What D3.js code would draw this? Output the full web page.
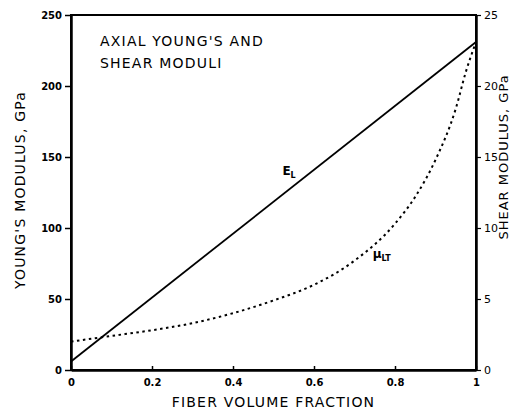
<!DOCTYPE html>
<html>
<head>
<meta charset="utf-8">
<script src="https://cdn.jsdelivr.net/npm/d3@7"></script>
<style>
  body { margin: 0; background: #fff; }
  svg { display: block; }
  text { font-family: "DejaVu Sans", sans-serif; fill: #000; }
  .tick text { font-weight: bold; font-size: 10px; }
</style>
</head>
<body>
<div id="chart"></div>
<script>
// fiber volume fraction values (x)
const fraction = [0, 1];
// axial Young's modulus E_L, GPa (left axis)
const youngs = [6, 231];

// shear modulus mu_LT, GPa (right axis)
const shearFraction = [0, 0.1, 0.2, 0.3, 0.4, 0.5, 0.6, 0.7, 0.8, 0.85, 0.9, 0.95, 0.975, 1.0];
const shear = [2.0, 2.4, 2.8, 3.3, 4.0, 4.9, 6.0, 7.7, 10.3, 12.2, 14.8, 18.4, 21.0, 23.1];

const xTicks = [0, 0.2, 0.4, 0.6, 0.8, 1];
const xTickLabels = ["0", "0.2", "0.4", "0.6", "0.8", "1"];
const leftTicks = [0, 50, 100, 150, 200, 250];
const rightTicks = [0, 5, 10, 15, 20, 25];

const width = 522, height = 411;
const margin = { top: 15, right: 46, bottom: 41, left: 71 };

const svg = d3.select("#chart").append("svg")
  .attr("width", width)
  .attr("height", height);

const x = d3.scaleLinear().domain([0, 1]).range([margin.left, width - margin.right]);
const yL = d3.scaleLinear().domain([0, 250]).range([height - margin.bottom, margin.top]);
const yR = d3.scaleLinear().domain([0, 25]).range([height - margin.bottom, margin.top]);

// frame
svg.append("rect")
  .attr("x", x(0)).attr("y", yL(250))
  .attr("width", x(1) - x(0)).attr("height", yL(0) - yL(250))
  .attr("fill", "none").attr("stroke", "#000").attr("stroke-width", 2);

// bottom axis
const xAxis = svg.append("g")
  .attr("transform", `translate(0,${yL(0)})`)
  .call(d3.axisBottom(x).tickValues(xTicks).tickFormat((d, i) => xTickLabels[i]).tickSizeInner(-4).tickSizeOuter(0).tickPadding(9));
xAxis.select(".domain").attr("stroke-width", 2.5);
xAxis.selectAll(".tick line").attr("stroke-width", 1.5);

// left axis
const lAxis = svg.append("g")
  .attr("transform", `translate(${x(0)},0)`)
  .call(d3.axisLeft(yL).tickValues(leftTicks).tickSizeInner(6).tickSizeOuter(0).tickPadding(3));
lAxis.select(".domain").attr("stroke-width", 2.5);
lAxis.selectAll(".tick line").attr("stroke-width", 1.5);

// right axis
const rAxis = svg.append("g")
  .attr("transform", `translate(${x(1)},0)`)
  .call(d3.axisRight(yR).tickValues(rightTicks).tickSizeInner(5).tickSizeOuter(0).tickPadding(3));
rAxis.select(".domain").attr("stroke-width", 2.5);
rAxis.selectAll(".tick line").attr("stroke-width", 1.2);
rAxis.selectAll(".tick text").style("font-weight", "normal").style("font-size", "11px");

// E_L line
svg.append("path")
  .datum(fraction.map((f, i) => [f, youngs[i]]))
  .attr("fill", "none").attr("stroke", "#000").attr("stroke-width", 1.8)
  .attr("d", d3.line().x(d => x(d[0])).y(d => yL(d[1])));

// mu_LT dotted curve
svg.append("path")
  .datum(shearFraction.map((f, i) => [f, shear[i]]))
  .attr("fill", "none").attr("stroke", "#000").attr("stroke-width", 2)
  .attr("stroke-dasharray", "2.5,3.5")
  .attr("d", d3.line().curve(d3.curveMonotoneX).x(d => x(d[0])).y(d => yR(d[1])));

// curve labels
const eLabel = svg.append("text")
  .attr("x", x(0.522)).attr("y", yL(137))
  .attr("font-size", 12).attr("font-weight", "bold");
eLabel.append("tspan").text("E");
eLabel.append("tspan").attr("dy", 3).attr("font-size", 8).text("L");

const muLabel = svg.append("text")
  .attr("x", x(0.745)).attr("y", yR(7.9))
  .attr("font-size", 12).attr("font-weight", "bold");
muLabel.append("tspan").text("μ");
muLabel.append("tspan").attr("dy", 3).attr("font-size", 8).text("LT");

// title inside plot
const title = svg.append("text")
  .attr("font-size", 14).attr("letter-spacing", 1.2);
title.append("tspan").attr("x", 100).attr("y", 46).text("AXIAL YOUNG'S AND");
title.append("tspan").attr("x", 100).attr("y", 68).text("SHEAR MODULI");

// axis titles
svg.append("text")
  .attr("x", (x(0) + x(1)) / 2).attr("y", 407)
  .attr("text-anchor", "middle").attr("font-size", 14).attr("letter-spacing", 1.2)
  .text("FIBER VOLUME FRACTION");

svg.append("text")
  .attr("transform", `translate(25,190) rotate(-90)`)
  .attr("text-anchor", "middle").attr("font-size", 14).attr("letter-spacing", 1.2)
  .text("YOUNG'S MODULUS, GPa");

svg.append("text")
  .attr("transform", `translate(508,157) rotate(-90)`)
  .attr("text-anchor", "middle").attr("font-size", 13).attr("letter-spacing", 1)
  .text("SHEAR MODULUS, GPa");
</script>
</body>
</html>
